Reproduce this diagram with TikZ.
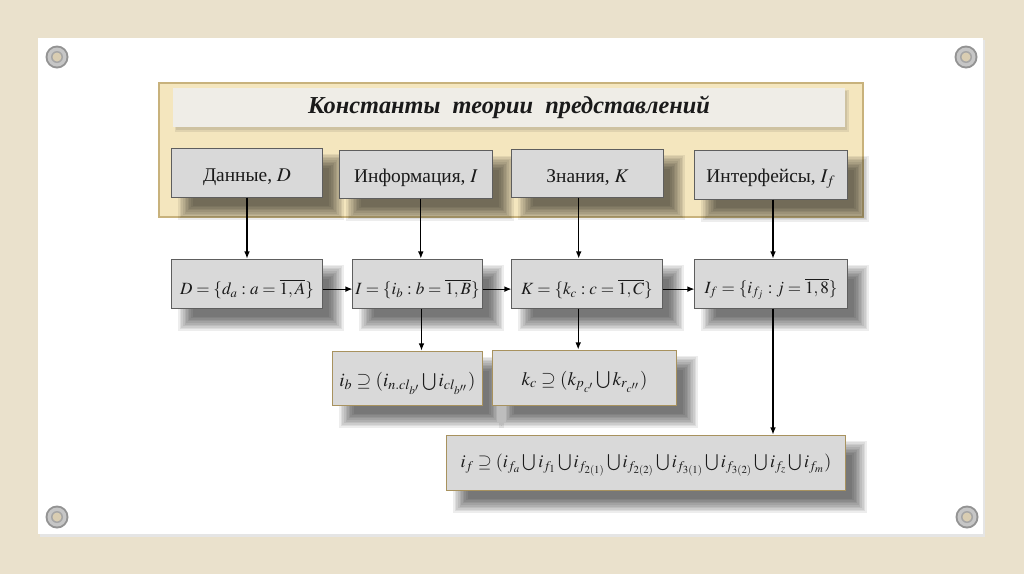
\documentclass[tikz,border=0pt]{standalone}
\usepackage{mathptmx}
\usepackage{fontspec}
\setmainfont{Liberation Serif}
\usetikzlibrary{arrows.meta,calc}
\pgfdeclarelayer{back}
\pgfdeclarelayer{shad}
\pgfsetlayers{back,shad,main}
\definecolor{bgc}{HTML}{EAE1CC}
\definecolor{panelfill}{HTML}{F4E6BE}
\definecolor{paneldraw}{HTML}{C8B27C}
\definecolor{titlefill}{HTML}{EFEDE7}
\definecolor{boxfill}{HTML}{D9D9D9}
\definecolor{boxdraw}{HTML}{5E5E5E}
\definecolor{tandraw}{HTML}{A8925E}
\definecolor{txt}{HTML}{1A1A1A}
\definecolor{holec}{HTML}{D9CDB2}
\tikzset{
  gbox/.style={draw=boxdraw, line width=0.7pt, fill=boxfill, text=txt, inner sep=0pt, font=\fontsize{13.8}{17}\selectfont},
  mbox/.style={gbox, font=\fontsize{12.2}{15}\selectfont},
  tbox/.style={gbox, draw=tandraw, font=\fontsize{13.5}{16}\selectfont},
  arr/.style={-{Latex[length=5pt,width=4pt]}, line width=0.8pt, black},
  shl/.style={fill=black, opacity=0.07},
}
\newcommand\boxshadow[1]{%
  \begin{pgfonlayer}{shad}
  \foreach \d in {-0.18,-0.14,-0.10,-0.06,-0.02,0.02,0.06,0.10,0.14,0.18}{
    \fill[shl] ($(#1.north west)+(0.35cm+\d cm,-0.33cm-\d cm)$) rectangle ($(#1.south east)+(0.35cm-\d cm,-0.38cm+\d cm)$);
  }
  \end{pgfonlayer}}
\newcommand\dn[2]{\raisebox{-#1pt}[\height][\depth]{#2}}
\begin{document}
\begin{tikzpicture}[x=0.025cm,y=-0.025cm]
\useasboundingbox (0,0) rectangle (1024,574);
\begin{pgfonlayer}{back}
\fill[bgc] (0,0) rectangle (1024,574);
% paper
\fill[black!10] (40,40) rectangle (985,537);
\fill[white] (38,38) rectangle (983,534);
% grommets
\foreach \gx/\gy in {57/57, 966/57, 57/517, 967/517}{
  \fill[gray!85] (\gx,\gy) circle[radius=11.5];
  \fill[gray!45] (\gx,\gy) circle[radius=9.5];
  \fill[gray!70] (\gx,\gy) circle[radius=6];
  \fill[holec] (\gx,\gy) circle[radius=4.5];
}
% panel
\node[draw=paneldraw, line width=1pt, fill=panelfill, minimum width=17.6cm, minimum height=3.35cm, inner sep=0pt] (panel) at (511,150) {};
\fill[black, opacity=0.08] (175,90) rectangle (849,132);
\fill[black, opacity=0.08] (176,91) rectangle (847,130);
\end{pgfonlayer}
\node[fill=titlefill, minimum width=16.8cm, minimum height=0.975cm, inner sep=0pt,
  font=\fontsize{17.3}{21}\selectfont\bfseries\itshape, text=txt] (title) at (509,107.5) {Константы~ теории~ представлений};
% top row
\node[gbox, minimum width=3.75cm, minimum height=1.225cm] (t1) at (247,172.5) {\dn{3}{Данные, $D$}};
\node[gbox, minimum width=3.8cm, minimum height=1.2cm] (t2) at (416,174) {\dn{3}{Информация, $I$}};
\node[gbox, minimum width=3.775cm, minimum height=1.2cm] (t3) at (587.5,173) {\dn{3}{Знания, $K$}};
\node[gbox, minimum width=3.8cm, minimum height=1.225cm] (t4) at (771,174.5) {\dn{3}{Интерфейсы, $I_f$}};
% middle row
\node[mbox, minimum width=3.75cm, minimum height=1.225cm] (m1) at (247,283.5) {\dn{4}{$D=\{d_a:a=\overline{1,A}\}$}};
\node[mbox, minimum width=3.225cm, minimum height=1.225cm] (m2) at (417.5,283.5) {\dn{4}{$I=\{i_b:b=\overline{1,B}\}$}};
\node[mbox, minimum width=3.75cm, minimum height=1.225cm] (m3) at (587,283.5) {\dn{4}{$K=\{k_c:c=\overline{1,C}\}$}};
\node[mbox, minimum width=3.8cm, minimum height=1.225cm] (m4) at (771,283.5) {\dn{4}{$I_f=\{i_{f_j}:j=\overline{1,8}\}$}};
% lower row
\node[tbox, minimum width=3.725cm, minimum height=1.35cm] (l1) at (407.5,378) {\dn{4}{$i_b\supseteq(i_{n.cl_{b'}}\bigcup i_{cl_{b''}})$}};
\node[tbox, minimum width=4.575cm, minimum height=1.375cm] (l2) at (584.5,377.5) {\dn{3}{$k_c\supseteq(k_{p_{c'}}\bigcup k_{r_{c''}})$}};
\node[tbox, minimum width=9.95cm, minimum height=1.375cm, font=\fontsize{12.8}{15}\selectfont] (b1) at (646,462.5) {\dn{2}{$i_f\supseteq(i_{f_a}\bigcup i_{f_1}\bigcup i_{f_{2(1)}}\bigcup i_{f_{2(2)}}\bigcup i_{f_{3(1)}}\bigcup i_{f_{3(2)}}\bigcup i_{f_z}\bigcup i_{f_m})$}};
% shadows
\boxshadow{t1}\boxshadow{t2}\boxshadow{t3}\boxshadow{t4}
\boxshadow{m1}\boxshadow{m2}\boxshadow{m3}\boxshadow{m4}
\boxshadow{l1}\boxshadow{l2}\boxshadow{b1}
% vertical arrows
\draw[arr] (t1.south) -- (t1.south |- m1.north);
\draw[arr] ([xshift=0.12cm]t2.south) -- ([xshift=0.12cm]t2.south |- m2.north);
\draw[arr] ([xshift=-0.22cm]t3.south) -- ([xshift=-0.22cm]t3.south |- m3.north);
\draw[arr] ([xshift=0.05cm]t4.south) -- ([xshift=0.05cm]t4.south |- m4.north);
% horizontal arrows
\draw[arr] ([yshift=-0.14cm]m1.east) -- ([yshift=-0.14cm]m1.east -| m2.west);
\draw[arr] ([yshift=-0.14cm]m2.east) -- ([yshift=-0.14cm]m2.east -| m3.west);
\draw[arr] ([yshift=-0.14cm]m3.east) -- ([yshift=-0.14cm]m3.east -| m4.west);
% down arrows
\draw[arr] ([xshift=0.1cm]m2.south) -- ([xshift=0.1cm]m2.south |- l1.north);
\draw[arr] ([xshift=-0.22cm]m3.south) -- ([xshift=-0.22cm]m3.south |- l2.north);
\draw[arr] ([xshift=0.05cm]m4.south) -- ([xshift=0.05cm]m4.south |- b1.north);
\end{tikzpicture}
\end{document}
